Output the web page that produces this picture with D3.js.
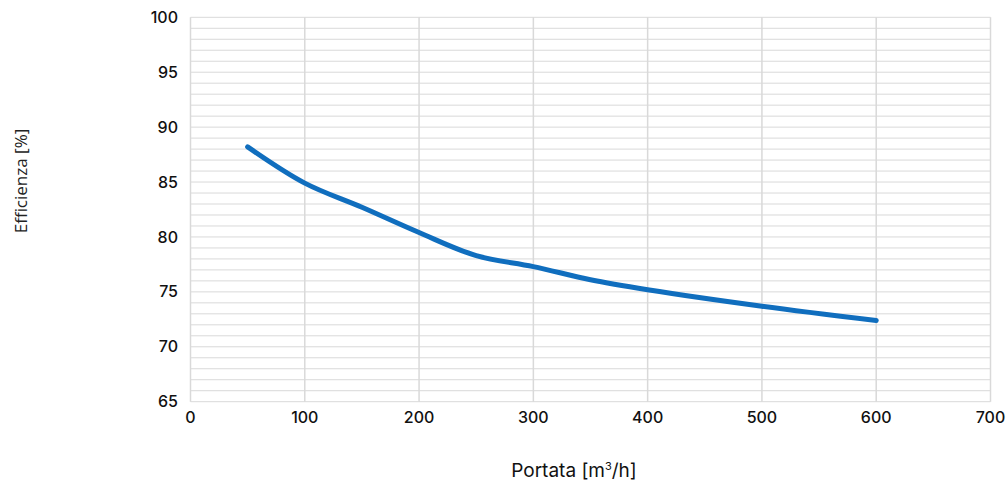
<!DOCTYPE html>
<html><head><meta charset="utf-8">
<script src="https://cdn.jsdelivr.net/npm/d3@7"></script>
<style>body{margin:0;background:#fff}svg{display:block}</style>
</head><body>
<svg id="c" width="1007" height="484"></svg>
<script>
const portata = [50, 100, 150, 200, 250, 300, 350, 400, 500, 600];
const efficienza = [88.2, 84.9, 82.7, 80.4, 78.3, 77.3, 76.1, 75.2, 73.7, 72.4];
const xTicks = [0, 100, 200, 300, 400, 500, 600, 700];
const yTicks = [65, 70, 75, 80, 85, 90, 95, 100];
const yMinor = d3.range(65, 101, 1);

const svg = d3.select('#c');
const x = d3.scaleLinear().domain([0, 700]).range([190.5, 990.5]);
const y = d3.scaleLinear().domain([65, 100]).range([401.7, 17.3]);
const grid = '#d9d9d9';

svg.append('g').selectAll('line').data(yMinor).join('line')
  .attr('x1', x(0)).attr('x2', x(700))
  .attr('y1', d => y(d)).attr('y2', d => y(d))
  .attr('stroke', grid).attr('stroke-width', 1);
svg.append('g').selectAll('line').data(xTicks).join('line')
  .attr('y1', y(65)).attr('y2', y(100))
  .attr('x1', d => x(d)).attr('x2', d => x(d))
  .attr('stroke', grid).attr('stroke-width', 1.5);

const font = 'Inter, sans-serif';
svg.append('g').selectAll('text').data(yTicks).join('text')
  .attr('x', 178).attr('y', d => y(d)).attr('dy', '0.35em')
  .attr('text-anchor', 'end').attr('font-family', font).attr('font-size', 16)
  .attr('font-weight', 500).attr('fill', '#111').text(d => d);
svg.append('g').selectAll('text').data(xTicks).join('text')
  .attr('x', d => x(d)).attr('y', 423)
  .attr('text-anchor', 'middle').attr('font-family', font).attr('font-size', 16)
  .attr('font-weight', 500).attr('fill', '#111').text(d => d);

const data = portata.map((p, i) => [p, efficienza[i]]);
svg.append('path').datum(data)
  .attr('fill', 'none').attr('stroke', '#106EBE').attr('stroke-width', 5)
  .attr('stroke-linecap', 'round').attr('stroke-linejoin', 'round')
  .attr('d', d3.line().x(d => x(d[0])).y(d => y(d[1])).curve(d3.curveCatmullRom.alpha(0.5)));

const xt = svg.append('text').attr('x', 574).attr('y', 477)
  .attr('text-anchor', 'middle').attr('font-family', font).attr('font-size', 19)
  .attr('fill', '#111');
xt.append('tspan').text('Portata [m');
xt.append('tspan').attr('baseline-shift', 'super').attr('font-size', 11).text('3');
xt.append('tspan').text('/h]');

svg.append('text').attr('transform', 'translate(27,181) rotate(-90)')
  .attr('text-anchor', 'middle').attr('font-family', '"Open Sans", sans-serif')
  .attr('font-size', 17).attr('fill', '#222').text('Efficienza [%]');
</script>
</body></html>
